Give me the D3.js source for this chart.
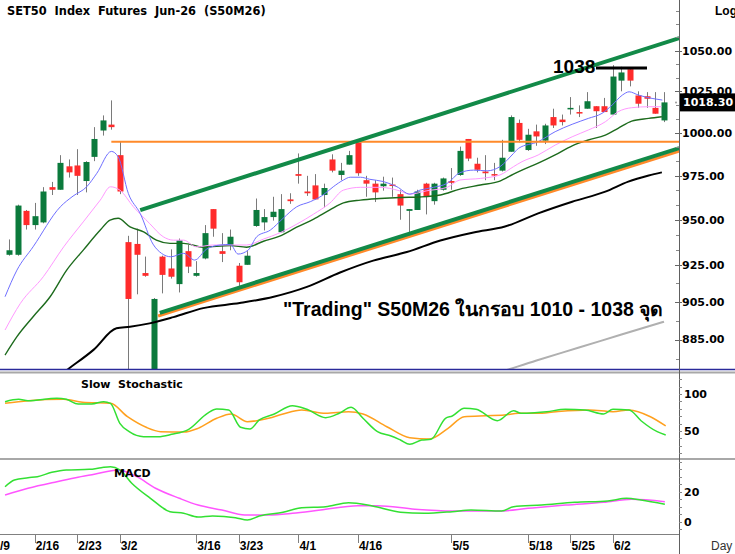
<!DOCTYPE html>
<html>
<head>
<meta charset="utf-8">
<script src="https://cdn.jsdelivr.net/npm/d3@7"></script>
<style>
  body { margin: 0; background: #fff; }
  svg { display: block; font-family: "Liberation Sans", Arial, sans-serif; }
  .lbl { font-family: "DejaVu Sans", Verdana, sans-serif; font-weight: bold; font-size: 11px; fill: #000; }
  .dlbl { font-family: "Liberation Sans", Arial, sans-serif; font-weight: bold; font-size: 12px; fill: #000; }
</style>
</head>
<body>
<div id="chart"></div>
<script>
// ---- data (trading-day index 0..77) ----
const dateIdx    = [-2, 3, 8, 13, 22, 27, 34, 41, 52, 61, 66, 71];
const dateLabels = ["2/9", "2/16", "2/23", "3/2", "3/16", "3/23", "4/1", "4/16", "5/5", "5/18", "5/25", "6/2"];

const opens  = [930.5,930.5,955,947,948.5,968.5,967,980.5,981,972,986,1001.5,1005,987,937.5,936.5,920.5,862,929.5,923,
                914.5,932.5,919,928.5,956,932.5,936,924.5,925,946.5,948.5,951.5,943,961.5,976,966,969.5,964,984.5,975.5,
                981.5,994.5,972.5,970.5,969,970,964.5,955,955.5,970.5,960.5,967,972,975.5,996.5,982,977.5,976,978,989,
                1006,990,1001,995.5,1009.5,1008,1014.5,1012.5,1014.5,1016,1016,1011,1031.5,1038.5,1022.5,1022,1015,1007.5];
const highs  = [939,958.5,955.5,959.5,968.5,971.5,987,984.5,990.5,983.5,1003.5,1010.5,1019.5,995,941,945,929.5,907,930,933.5,
                939.5,936,927,947,956,942.5,944.5,926,932.5,962,956,963,964.5,965,988,975,976,970.5,987.5,982.5,
                989.5,995.5,975,972.5,974.5,974,967,956,967,971,971,974,979.5,992,996.5,985.5,987,982.5,996,1010.5,
                1008,1002.5,1005,1005.5,1014.5,1011,1021.5,1016.5,1024.5,1016,1021,1041,1040,1039,1025,1024.5,1024.5,1024.5];
const lows   = [930,930,944.5,944.5,948,964,967,974,964,965.5,983.5,998.5,1002,964.5,865,909,918.5,858,909.5,917.5,
                910,920.5,918.5,928,940.5,926.5,933,913.5,925,946,944,949.5,943,959,970.5,963.5,961.5,957,977,972.5,
                981.5,975,963,960,966.5,963,950,942.5,955.5,953,958.5,966.5,967,975,983.5,977,972.5,972.5,977.5,989,
                994.5,989.5,992.5,993.5,1003,1004.5,1011,1009.5,1014.5,1003,1012.5,1011,1025,1028,1015,1015,1011.5,1006.5];
const closes = [933,958,947,952,966,967,982.5,977,975,983,996.5,1007.5,1003.5,966,906.5,930.5,919,906.5,919.5,918.5,
                938.5,924,920.5,942.5,945,931,940.5,915.5,930,955.5,951.5,954.5,956,960.5,975,965,961.5,968,978,978,
                987,976.5,970.5,965.5,970.5,969.5,958,956,966,963,970.5,973.5,971,989.5,985,978.5,976.5,975.5,985.5,1009.5,
                996,999,998,1004.5,1004.5,1006.5,1015,1012,1019,1013,1012.5,1034,1036.5,1031.5,1017.5,1020.5,1011.5,1018.3];

// moving averages: [day index, price]
const maBlue = [[-0.5,907.7],[0.9,922.1],[2.8,934.9],[6,957.3],[7.5,963.4],[9.1,968.7],[10.3,976.5],[12,989.2],[12.8,986.1],
  [14,964.9],[15.4,953.5],[16.9,936.4],[17.9,931.3],[19,929.4],[20.5,931.3],[21.8,927.6],[23.2,933.6],[24.8,935.9],[26,936.2],
  [26.9,930.9],[28.1,933.1],[29.1,940.5],[30.7,944.2],[32.2,950.8],[33.8,957.3],[35.4,960.2],[36.9,964],[38.1,968.7],[39.3,972.6],
  [40.1,974.2],[41.3,974.2],[42.4,973],[44,971.7],[45.6,968.7],[47.1,964.5],[48.3,966.8],[49.9,968.4],[51.5,970.7],[53,976.8],
  [54.6,978.3],[56.2,977.9],[57.7,980.3],[59.3,988],[59.9,991],[62.2,994.9],[64.2,1000.8],[66.2,1005.2],[68.1,1008.7],
  [69.7,1011.7],[70.9,1016.7],[72.1,1022.7],[72.9,1024.7],[74,1022.7],[75.6,1020.7],[76.8,1019.7]];
const maPink = [[-0.5,890],[1.3,904.1],[4,918.5],[6.4,934.9],[8.7,948.8],[10.7,961.1],[11.9,968.7],[13,966.8],[14.6,957.3],
  [16.5,947.9],[18.1,940.5],[19.3,938.6],[20.5,938.6],[22,934.9],[24,935.9],[26,935.9],[27.9,935.9],[29.9,939.2],[31.8,942.6],
  [33.8,947.5],[35.8,953.2],[37.7,959.4],[39.3,966.8],[41.3,968.4],[43.6,968.4],[45.9,966.4],[47.1,964.5],[49.1,966.4],
  [51.5,968.4],[53,972.6],[55.4,973.5],[57.7,975.5],[59.3,980.3],[60.3,983.2],[62.2,987.1],[64.2,992.9],[66.2,997.8],
  [68.1,1001.8],[70.1,1006.7],[71.6,1012.7],[73.2,1015.1],[75.2,1015.7],[76.7,1015.7]];
const maGreen = [[-0.5,876.9],[0.9,886.5],[2.8,897],[4.8,907.7],[6.75,922.1],[8.7,933.1],[10.7,944.2],[11.85,949.8],
  [12.8,950.8],[14.2,946],[15.8,943.2],[17.3,938.6],[18.9,936.8],[20.5,936.8],[22.8,934.7],[26,935.6],[27.9,934.7],
  [29.9,938],[31.8,940.8],[33.8,945.8],[35.8,950.4],[37.7,955.5],[39.3,959.5],[41.3,961.1],[43.6,962],[46,962.6],
  [48.3,962.9],[50.7,964],[53,967.4],[55.4,969.7],[57.7,972],[59.3,976],[60.3,978.3],[62.2,982.3],[64.2,987.1],
  [66.2,992.5],[68.1,995.9],[70.1,998.8],[71.6,1002.8],[73.2,1007.1],[75.2,1008.7],[76.75,1009.7]];
const maBlack = [[5,863.3],[6.9,869.6],[9.9,879.6],[12.6,890.9],[14.2,891.7],[16.5,893.5],[19.3,896.8],[22.8,901.6],
  [27.1,904.3],[31.1,907.7],[35,913],[38.9,920.8],[42.8,927.3],[46.75,932],[50.7,938.4],[54.6,942.9],[58.3,946.2],
  [62.2,953.6],[66.2,960.2],[70.1,965.9],[72.8,971.7],[75.2,975.2],[76.75,977]];
const maGray = [[55,864.5],[57,867.1],[62,874.1],[67,880.8],[72,887.6],[77,894.4]];

// drawn objects
const upperTrend = [[15.4,955.4],[78.8,1057.8]];
const lowerTrend = [[17.7,899.1],[78.8,991.1]];
const lowerTrendOrange = [[17.5,897.4],[78.8,989.4]];
const supportLevel = 994.8, supportFrom = 12;
const resistLevel = 1039.3, resistFrom = 69, resistTo = 75;

// slow stochastic
const stochK = [[-0.5,89.6],[1.1,92.8],[2.2,90.9],[5.6,94.2],[6.7,92.8],[8.1,86.5],[9.7,86.5],[11.1,89.6],[11.9,87.4],
  [13,60.4],[14.1,49.1],[15.8,42.3],[17.5,42.3],[19.1,45.5],[21.1,52.3],[23.3,73.9],[24.4,79.7],[25.8,78.4],[27.2,55],
  [28.3,52.7],[29.4,64.9],[31.1,72.6],[33.3,84.2],[35,79.3],[37.2,68],[38.8,73.9],[40.2,82],[41.6,67.2],[43.3,49.1],
  [44.9,43.2],[46,37.8],[47.1,32],[48.5,37.8],[49.6,38.8],[51.3,67.2],[52.1,70.3],[53.5,80.7],[54.9,79.3],[57.4,63.9],
  [59.3,77.4],[60.2,73.9],[61.8,74.7],[63.2,76.1],[65.4,79.3],[67.7,78.4],[69.9,73],[71,79.3],[72.9,78.4],[74.3,63.9],
  [76.2,49.1],[77.2,44.6]];
const stochD = [[-0.5,87.4],[2.2,90.9],[6.4,92.8],[8.6,88.8],[11.9,87.4],[13.9,69.3],[16.1,55],[17.8,49.1],[20.5,48.6],
  [22.2,53.6],[24.4,67.2],[26.1,73],[28,62.6],[30.5,67.2],[32.2,73],[34.4,78.4],[37.2,73.9],[39.9,76.1],[41.6,73],
  [44.4,55.8],[47.1,40.9],[49.4,39.2],[51.6,53.6],[53.5,69.3],[56,70.7],[58.2,71.6],[59.9,73.9],[62.1,73.9],[64.3,76.1],
  [68.2,78.4],[71,76.1],[72.9,78.4],[75.4,69.3],[77.2,56.8]];

// MACD
const macdLine = [[-0.5,23.3],[0.6,27.8],[2.2,29.3],[3.3,30],[5,32.9],[6.7,34.5],[9.4,34.9],[10.8,36],[11.9,36.7],[13,34.5],
  [14.4,25.6],[16.6,15.6],[18.9,6.7],[20.5,5.6],[22.2,3.1],[23.9,3.8],[26.6,2.7],[28,1.1],[29.4,3.8],[32.2,6.3],[34.4,9.3],
  [37.2,10],[39.9,12.7],[42.7,10.5],[46,6.3],[48.8,5.6],[52.1,6.7],[54.3,7.8],[57.9,7.1],[59.3,10],[62.6,11.1],[66.5,12.9],
  [70.4,13.8],[72.6,15.6],[74.3,14.5],[77.1,11.6]];
const macdSignal = [[-0.5,17.8],[2.2,22.3],[5.6,26.7],[7.8,29.3],[10,31.6],[12.8,34.5],[15,30],[17.2,22.3],[20,15.6],
  [22.2,11.1],[25,7.8],[27.7,4.5],[30.5,4.5],[33.3,5.6],[36.6,7.8],[41,10.7],[43.3,10.7],[47.7,8.3],[52.1,7.1],[57.6,7.1],
  [61,8.9],[65.4,11.1],[69.9,12.9],[73.2,14.9],[77.1,13.3]];

const priceTicks = [1050, 1025, 1000, 975, 950, 925, 905, 885];
const stochTicks = [100, 50];
const macdTicks  = [20, 0];

// ---- layout ----
const W = 735, H = 554, axisX = 679;
const svg = d3.select("#chart").append("svg").attr("width", W).attr("height", H);
const defs = svg.append("defs");
function clip(id, y0, h) {
  defs.append("clipPath").attr("id", id).append("rect")
    .attr("x", 0).attr("y", y0).attr("width", axisX).attr("height", h);
}
clip("cMain", 0, 369);
clip("cStoch", 373, 85);
clip("cMacd", 460, 74);

const x = d3.scaleLinear().domain([0, 77]).range([9.3, 664]);
const y = d3.scaleLog().domain([869.7, 1081.9]).range([369, 0]);
const yS = d3.scaleLinear().domain([50, 100]).range([431, 394]);
const yM = d3.scaleLinear().domain([0, 20]).range([521.7, 491.7]);

const main = svg.append("g").attr("clip-path", "url(#cMain)");

// candles
const n = closes.length;
const candles = d3.range(n).map(i => ({ i, o: opens[i], h: highs[i], l: lows[i], c: closes[i] }));
const cg = main.append("g");
cg.selectAll("line.wick").data(candles).enter().append("line")
  .attr("x1", d => Math.round(x(d.i)) + 0.5).attr("x2", d => Math.round(x(d.i)) + 0.5)
  .attr("y1", d => y(d.h)).attr("y2", d => y(d.l))
  .attr("stroke", "#7a7a7a").attr("stroke-width", 1);
cg.selectAll("rect.body").data(candles).enter().append("rect")
  .attr("x", d => Math.round(x(d.i)) - 2.5)
  .attr("width", 6)
  .attr("y", d => y(Math.max(d.o, d.c)))
  .attr("height", d => Math.max(1.5, y(Math.min(d.o, d.c)) - y(Math.max(d.o, d.c))))
  .attr("fill", d => d.c >= d.o ? "#0b7a3c" : "#ff2b2b");

// moving averages
const priceLine = d3.line().x(d => x(d[0])).y(d => y(d[1])).curve(d3.curveMonotoneX);
main.append("path").attr("d", priceLine(maGray)).attr("fill", "none").attr("stroke", "#b0b0b0").attr("stroke-width", 2);
main.append("path").attr("d", priceLine(maBlack)).attr("fill", "none").attr("stroke", "#000").attr("stroke-width", 2);
main.append("path").attr("d", priceLine(maGreen)).attr("fill", "none").attr("stroke", "#1d6b1d").attr("stroke-width", 1.4);
main.append("path").attr("d", priceLine(maPink)).attr("fill", "none").attr("stroke", "#ff99ff").attr("stroke-width", 1);
main.append("path").attr("d", priceLine(maBlue)).attr("fill", "none").attr("stroke", "#6f6fff").attr("stroke-width", 1);

// drawn lines
const straight = d3.line().x(d => x(d[0])).y(d => y(d[1]));
main.append("line")
  .attr("x1", x(supportFrom)).attr("x2", axisX)
  .attr("y1", y(supportLevel)).attr("y2", y(supportLevel))
  .attr("stroke", "#ff8a2a").attr("stroke-width", 2);
main.append("path").attr("d", straight(lowerTrendOrange)).attr("stroke", "#ff8a2a").attr("stroke-width", 3).attr("fill", "none");
main.append("path").attr("d", straight(lowerTrend)).attr("stroke", "#128a48").attr("stroke-width", 4).attr("fill", "none");
main.append("path").attr("d", straight(upperTrend)).attr("stroke", "#128a48").attr("stroke-width", 4).attr("fill", "none");
main.append("line")
  .attr("x1", x(resistFrom)).attr("x2", x(resistTo))
  .attr("y1", y(resistLevel)).attr("y2", y(resistLevel))
  .attr("stroke", "#000").attr("stroke-width", 3);

// annotations
svg.append("text").attr("x", 553).attr("y", 73).attr("font-size", 19).attr("font-weight", "bold").text("1038");
svg.append("text").attr("x", 283).attr("y", 316).attr("font-size", 19.5).attr("font-weight", "bold")
  .text("\"Trading\" S50M26 ในกรอบ 1010 - 1038 จุด");
svg.append("text").attr("x", 7).attr("y", 15).attr("font-size", 11.4).attr("font-weight", "bold")
  .attr("font-family", "'DejaVu Sans', Verdana, sans-serif")
  .style("white-space", "pre").text("SET50  Index  Futures  Jun-26  (S50M26)");
svg.append("text").attr("x", 715).attr("y", 15).attr("font-size", 12).attr("font-weight", "bold").text("Log");

// panel separators
svg.append("line").attr("x1", 0).attr("x2", W).attr("y1", 369.5).attr("y2", 369.5).attr("stroke", "#2a2a9a").attr("stroke-width", 1.5);
svg.append("line").attr("x1", 0).attr("x2", W).attr("y1", 372.5).attr("y2", 372.5).attr("stroke", "#a8a8a8").attr("stroke-width", 2);
svg.append("line").attr("x1", 0).attr("x2", W).attr("y1", 459).attr("y2", 459).attr("stroke", "#a8a8a8").attr("stroke-width", 2);
svg.append("line").attr("x1", 0).attr("x2", axisX).attr("y1", 534.5).attr("y2", 534.5).attr("stroke", "#808080").attr("stroke-width", 1);

// right axis line
svg.append("line").attr("x1", axisX + 0.5).attr("x2", axisX + 0.5).attr("y1", 0).attr("y2", H).attr("stroke", "#606060");

// price axis
const minor = [1075, 1066.7, 1058.3];
priceTicks.forEach((a, i) => {
  const b = priceTicks[i + 1];
  if (b === undefined) return;
  const k = (a - b) >= 25 ? 3 : 2;
  for (let j = 1; j < k; j++) minor.push(a - (a - b) * j / k);
});
minor.push(875);
svg.selectAll("line.pmin").data(minor).enter().append("line")
  .attr("x1", axisX - 3).attr("x2", axisX).attr("y1", d => Math.round(y(d)) + 0.5).attr("y2", d => Math.round(y(d)) + 0.5)
  .attr("stroke", "#888");
svg.selectAll("line.pmaj").data(priceTicks).enter().append("line")
  .attr("x1", axisX - 4).attr("x2", axisX + 3).attr("y1", d => Math.round(y(d)) + 0.5).attr("y2", d => Math.round(y(d)) + 0.5)
  .attr("stroke", "#666");
svg.selectAll("text.pt").data(priceTicks).enter().append("text").attr("class", "lbl")
  .attr("x", 682).attr("y", d => y(d)).attr("dy", "0.36em").text(d => d3.format(".2f")(d));

// last price box
const last = closes[n - 1];
svg.append("rect").attr("x", 680).attr("y", y(last) - 9).attr("width", 56).attr("height", 18).attr("fill", "#000");
svg.append("text").attr("class", "lbl").attr("x", 683).attr("y", y(last)).attr("dy", "0.36em")
  .style("fill", "#fff").text(d3.format(".2f")(last));
svg.append("circle").attr("cx", 676).attr("cy", y(last)).attr("r", 1).attr("fill", "#999");

// stochastic panel
const sp = svg.append("g").attr("clip-path", "url(#cStoch)");
const sLine = d3.line().x(d => x(d[0])).y(d => yS(d[1])).curve(d3.curveMonotoneX);
sp.append("path").attr("d", sLine(stochD)).attr("fill", "none").attr("stroke", "#ffa01e").attr("stroke-width", 1.5);
sp.append("path").attr("d", sLine(stochK)).attr("fill", "none").attr("stroke", "#33e033").attr("stroke-width", 1.5);
svg.append("text").attr("class", "lbl").attr("x", 81).attr("y", 388).style("white-space", "pre").text("Slow  Stochastic");
svg.selectAll("line.smin").data(d3.range(20, 130, 10)).enter().append("line")
  .attr("x1", axisX).attr("x2", axisX + 3).attr("y1", d => Math.round(yS(d)) + 0.5).attr("y2", d => Math.round(yS(d)) + 0.5)
  .attr("stroke", "#888");
svg.selectAll("text.st").data(stochTicks).enter().append("text").attr("class", "lbl")
  .attr("x", 684).attr("y", d => yS(d)).attr("dy", "0.36em").text(d => d);

// MACD panel
const mp = svg.append("g").attr("clip-path", "url(#cMacd)");
const mLine = d3.line().x(d => x(d[0])).y(d => yM(d[1])).curve(d3.curveMonotoneX);
mp.append("path").attr("d", mLine(macdSignal)).attr("fill", "none").attr("stroke", "#ff55ff").attr("stroke-width", 1.5);
mp.append("path").attr("d", mLine(macdLine)).attr("fill", "none").attr("stroke", "#33e033").attr("stroke-width", 1.5);
svg.append("text").attr("class", "lbl").attr("x", 114).attr("y", 477).text("MACD");
svg.selectAll("line.mmin").data(d3.range(-5, 45, 5)).enter().append("line")
  .attr("x1", axisX).attr("x2", axisX + 3).attr("y1", d => Math.round(yM(d)) + 0.5).attr("y2", d => Math.round(yM(d)) + 0.5)
  .attr("stroke", "#888");
svg.selectAll("text.mt").data(macdTicks).enter().append("text").attr("class", "lbl")
  .attr("x", 684).attr("y", d => yM(d)).attr("dy", "0.36em").text(d => d);

// date axis
svg.selectAll("line.dt").data(dateIdx).enter().append("line")
  .attr("x1", d => Math.round(x(d)) + 0.5).attr("x2", d => Math.round(x(d)) + 0.5)
  .attr("y1", 535).attr("y2", 543).attr("stroke", "#808080");
svg.selectAll("text.dl").data(dateIdx).enter().append("text").attr("class", "dlbl")
  .attr("x", d => x(d) + 1).attr("y", 550).text((d, i) => dateLabels[i]);
svg.append("text").attr("x", 711).attr("y", 550).attr("font-size", 12).attr("fill", "#333").text("Day");
</script>
</body>
</html>
